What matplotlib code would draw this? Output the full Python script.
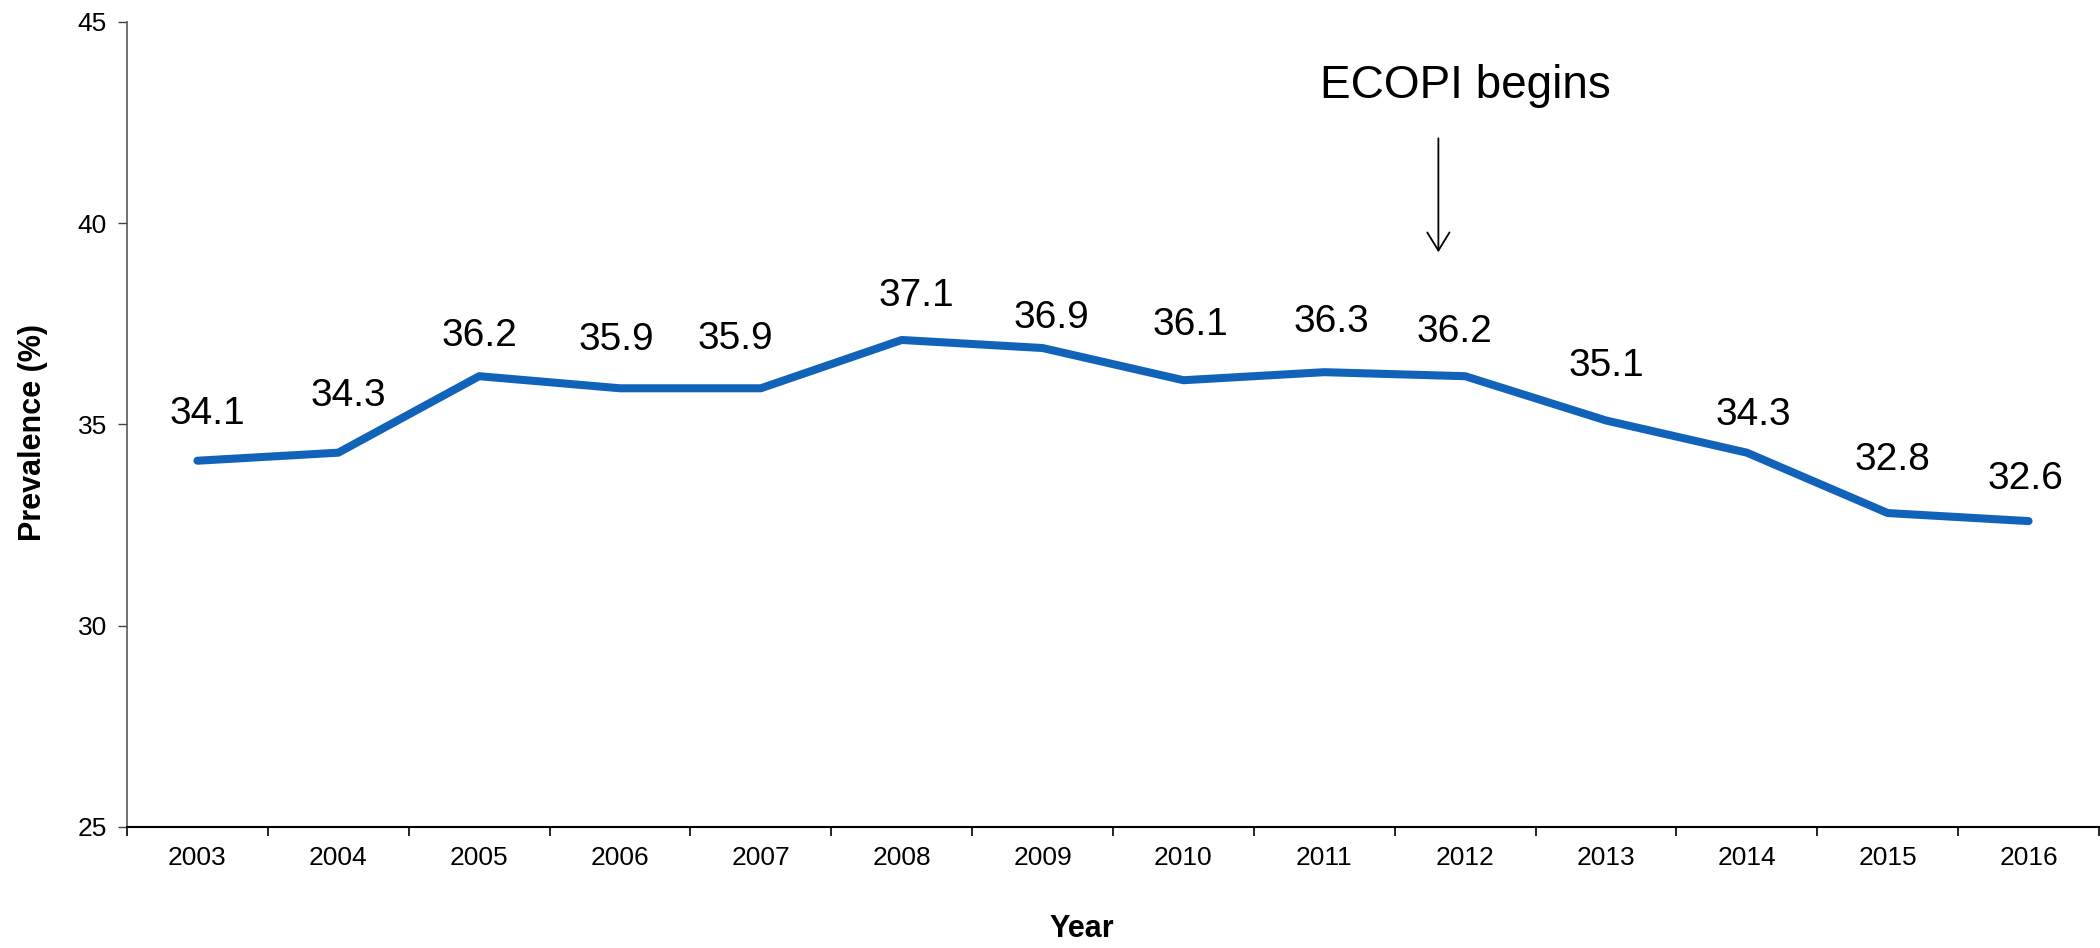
import matplotlib
matplotlib.use("Agg")
import matplotlib.pyplot as plt
from matplotlib.ticker import FixedLocator, NullFormatter

plt.rcParams['font.family'] = ['Liberation Sans', 'DejaVu Sans']

# ---- data ----
years = ['2003', '2004', '2005', '2006', '2007', '2008', '2009',
         '2010', '2011', '2012', '2013', '2014', '2015', '2016']
prevalence = [34.1, 34.3, 36.2, 35.9, 35.9, 37.1, 36.9,
              36.1, 36.3, 36.2, 35.1, 34.3, 32.8, 32.6]
y_ticks = [25, 30, 35, 40, 45]
y_label = 'Prevalence (%)'
x_label = 'Year'
event_label = 'ECOPI begins'
event_year = '2012'

# ---- label placement (pixels, style only) ----
label_dx = [10, 10, 0, -4, -25, 15, 9, 7, 7, -11, 0, 7, 5, -3]
label_dy = [37, 47, 30, 38, 39, 34, 20, 45, 40, 34, 44, 28, 43, 32]

W, H = 2100, 948
fig = plt.figure(figsize=(W / 100, H / 100), dpi=100)
ax_l, ax_r, ax_t, ax_b = 127, 2099, 22, 827
ax = fig.add_axes([ax_l / W, 1 - ax_b / H, (ax_r - ax_l) / W, (ax_b - ax_t) / H])

x = list(range(len(years)))
ax.plot(x, prevalence, color='#1163BA', lw=5.8,
        solid_capstyle='round', solid_joinstyle='round', zorder=3)

for xi, v, dx, dy in zip(x, prevalence, label_dx, label_dy):
    ax.annotate(f'{v:.1f}', xy=(xi, v), xytext=(dx, dy),
                textcoords='offset pixels', ha='center', va='baseline',
                fontsize=28, color='black')

ax.set_xlim(-0.5, len(years) - 0.5)
ax.set_ylim(y_ticks[0], y_ticks[-1])

# x axis: labels at centres, tick marks at category boundaries
ax.set_xticks(x)
ax.set_xticklabels(years)
ax.xaxis.set_minor_locator(FixedLocator([i - 0.5 for i in range(len(years) + 1)]))
ax.xaxis.set_minor_formatter(NullFormatter())
ax.tick_params(axis='x', which='major', length=0, pad=14, labelsize=19)
ax.tick_params(axis='x', which='minor', length=6.5, width=1.2, direction='out', color='black')

ax.set_yticks(y_ticks)
ax.tick_params(axis='y', which='major', length=6.5, width=1.0, direction='out',
               pad=8, labelsize=19, color='#404040')

for s in ['top', 'right']:
    ax.spines[s].set_visible(False)
ax.spines['left'].set_color('#595959')
ax.spines['left'].set_linewidth(1.2)
ax.spines['bottom'].set_color('black')
ax.spines['bottom'].set_linewidth(1.5)

ax.set_ylabel(y_label, fontsize=22, fontweight='bold')
ax.yaxis.set_label_coords(-0.04, 0.49)
ax.set_xlabel(x_label, fontsize=22, fontweight='bold')
ax.xaxis.set_label_coords(0.4843, -0.108)

# event annotation
ex = years.index(event_year)
ax.text(ex, 43.11, event_label, ha='center', va='baseline', fontsize=33, color='black')
ax.annotate('', xy=(ex - 0.19, 39.28), xytext=(ex - 0.19, 42.11),
            arrowprops=dict(arrowstyle='->,head_length=0.65,head_width=0.4',
                            lw=1.3, color='black', shrinkA=0, shrinkB=0,
                            mutation_scale=20))

fig.savefig('out.png', dpi=100)
